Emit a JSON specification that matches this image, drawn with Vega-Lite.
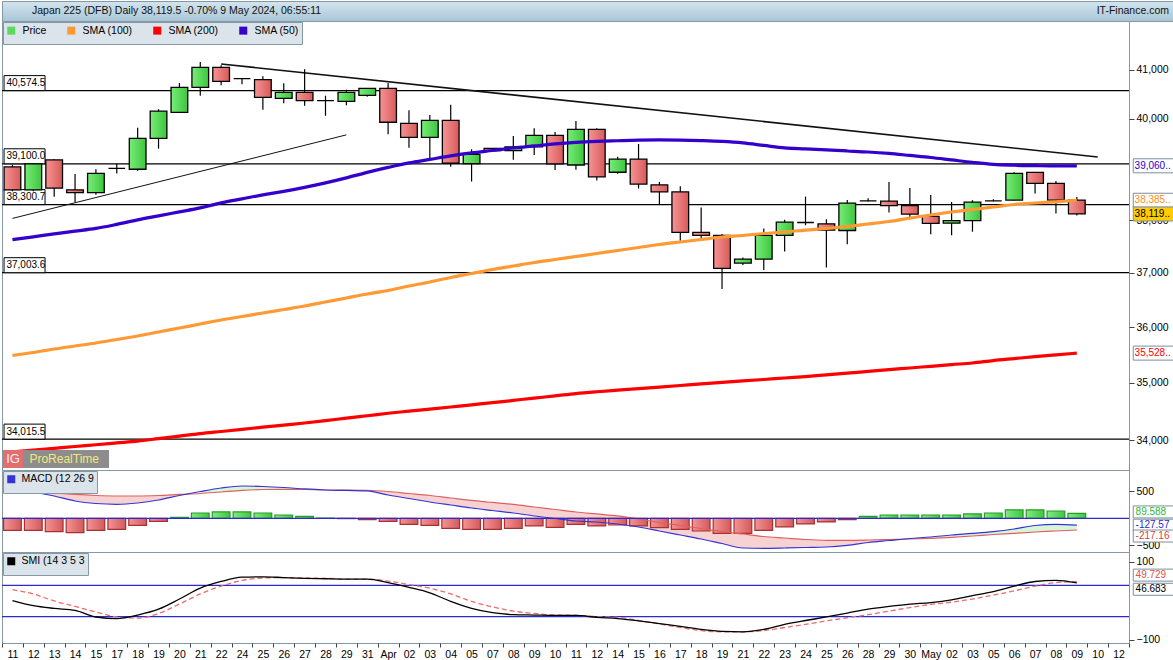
{
"$schema": "https://vega.github.io/schema/vega-lite/v6.json",
"padding": 0,
"spacing": 0,
"bounds": "flush",
"background": "white",
"config": {
 "font": "Liberation Sans",
 "view": {"stroke": "#8598a6", "strokeWidth": 1},
 "axis": {"labelFontSize": 10.5, "labelColor": "black", "tickColor": "#444", "domain": false, "grid": false, "labelFont": "Liberation Sans"},
 "legend": {"labelFontSize": 10.5, "labelFont": "Liberation Sans", "labelColor": "black"},
 "text": {"font": "Liberation Sans"}
},
"datasets": {
 "hdr": [{"p": 0, "t": "Japan 225 (DFB) Daily 38,119.5 -0.70% 9 May 2024, 06:55:11"}, {"p": 1, "t": "IT-Finance.com"}],
 "lvl": [{"v": 40574.5, "t": "40,574.5"}, {"v": 39100, "t": "39,100.0"}, {"v": 38300.7, "t": "38,300.7"}, {"v": 37003.6, "t": "37,003.6"}, {"v": 34015.5, "t": "34,015.5"}],
 "trd": [{"id": "a", "date": "2024-03-22", "v": 41125}, {"id": "a", "date": "2024-05-10", "v": 39235}, {"id": "b", "date": "2024-03-11", "v": 38034}, {"id": "b", "date": "2024-03-29", "v": 39676}],
 "ptg": [{"k": "s50", "v": 39060, "t": "39,060.."}, {"k": "s100", "v": 38385, "t": "38,385.."}, {"k": "last", "v": 38119.5, "t": "38,119.."}, {"k": "s200", "v": 35528, "t": "35,528.."}],
 "mtg": [{"k": "hist", "v": 89.588, "t": "89.588"}, {"k": "macd", "v": -127.57, "t": "-127.57"}, {"k": "sig", "v": -217.16, "t": "-217.16"}],
 "stg": [{"k": "sig", "v": 49.729, "t": "49.729"}, {"k": "smi", "v": 46.683, "t": "46.683"}],
 "ohlc": [
{"date":"2024-03-11","o":39037,"h":39080,"l":38560,"c":38587,"s50":37627,"s100":35485,"s200":33798,"hist":-222,"macd":543,"sig":552,"seg":"r1","smi":1,"smis":29},
{"date":"2024-03-12","o":38587,"h":39110,"l":38560,"c":39100,"s50":37681,"s100":35539,"s200":33829,"hist":-222,"macd":487,"sig":506,"seg":"r1","smi":-12,"smis":18},
{"date":"2024-03-13","o":39176,"h":39190,"l":38455,"c":38620,"s50":37738,"s100":35602,"s200":33858,"hist":-248,"macd":413,"sig":469,"seg":"r1","smi":-19,"smis":0},
{"date":"2024-03-14","o":38587,"h":38900,"l":38345,"c":38535,"s50":37790,"s100":35656,"s200":33889,"hist":-267,"macd":320,"sig":441,"seg":"r1","smi":-24,"smis":-14},
{"date":"2024-03-15","o":38535,"h":38990,"l":38490,"c":38910,"s50":37843,"s100":35710,"s200":33919,"hist":-222,"macd":274,"sig":422,"seg":"r1","smi":-41,"smis":-28},
{"date":"2024-03-17","o":39010,"h":39100,"l":38910,"c":39010,"s50":37920,"s100":35774,"s200":33950,"hist":-204,"macd":259,"sig":413,"seg":"r1","smi":-45,"smis":-41},
{"date":"2024-03-18","o":38992,"h":39820,"l":38960,"c":39607,"s50":38006,"s100":35837,"s200":33981,"hist":-130,"macd":283,"sig":413,"seg":"r1","smi":-36,"smis":-44},
{"date":"2024-03-19","o":39607,"h":40195,"l":39400,"c":40155,"s50":38083,"s100":35910,"s200":34024,"hist":-56,"macd":339,"sig":422,"seg":"r1","smi":-21,"smis":-32},
{"date":"2024-03-20","o":40132,"h":40731,"l":40130,"c":40643,"s50":38160,"s100":35982,"s200":34067,"hist":19,"macd":422,"sig":441,"seg":"r1","smi":5,"smis":-8},
{"date":"2024-03-21","o":40643,"h":41166,"l":40470,"c":41056,"s50":38237,"s100":36055,"s200":34111,"hist":98,"macd":496,"sig":459,"seg":"g1","smi":33,"smis":18},
{"date":"2024-03-22","o":41056,"h":41100,"l":40684,"c":40766,"s50":38334,"s100":36128,"s200":34147,"hist":117,"macd":561,"sig":487,"seg":"g1","smi":50,"smis":38},
{"date":"2024-03-24","o":40820,"h":40830,"l":40705,"c":40820,"s50":38412,"s100":36192,"s200":34183,"hist":117,"macd":598,"sig":515,"seg":"g1","smi":61,"smis":53},
{"date":"2024-03-25","o":40799,"h":40870,"l":40184,"c":40437,"s50":38490,"s100":36257,"s200":34222,"hist":98,"macd":589,"sig":533,"seg":"g1","smi":62,"smis":59},
{"date":"2024-03-26","o":40417,"h":40725,"l":40315,"c":40539,"s50":38557,"s100":36321,"s200":34258,"hist":61,"macd":570,"sig":537,"seg":"g1","smi":60,"smis":60},
{"date":"2024-03-27","o":40539,"h":41015,"l":40265,"c":40368,"s50":38636,"s100":36385,"s200":34294,"hist":37,"macd":543,"sig":533,"seg":"g1","smi":58,"smis":59},
{"date":"2024-03-28","o":40368,"h":40470,"l":40062,"c":40368,"s50":38724,"s100":36459,"s200":34334,"hist":4,"macd":524,"sig":524,"seg":"r2","smi":57,"smis":58},
{"date":"2024-03-29","o":40355,"h":40592,"l":40275,"c":40539,"s50":38822,"s100":36533,"s200":34378,"hist":-6,"macd":515,"sig":524,"seg":"r2","smi":56,"smis":56},
{"date":"2024-03-31","o":40477,"h":40630,"l":40450,"c":40620,"s50":38930,"s100":36607,"s200":34420,"hist":-25,"macd":506,"sig":519,"seg":"r2","smi":56,"smis":56},
{"date":"2024-04-01","o":40620,"h":40731,"l":39686,"c":39930,"s50":39028,"s100":36672,"s200":34463,"hist":-56,"macd":431,"sig":496,"seg":"r2","smi":47,"smis":51},
{"date":"2024-04-02","o":39909,"h":40174,"l":39416,"c":39627,"s50":39117,"s100":36755,"s200":34500,"hist":-111,"macd":367,"sig":459,"seg":"r2","smi":35,"smis":42},
{"date":"2024-04-03","o":39627,"h":40078,"l":39187,"c":39970,"s50":39186,"s100":36830,"s200":34536,"hist":-130,"macd":302,"sig":422,"seg":"r2","smi":21,"smis":33},
{"date":"2024-04-04","o":39970,"h":40283,"l":39043,"c":39110,"s50":39255,"s100":36914,"s200":34573,"hist":-185,"macd":246,"sig":376,"seg":"r2","smi":-1,"smis":18},
{"date":"2024-04-05","o":39102,"h":39387,"l":38750,"c":39288,"s50":39315,"s100":36988,"s200":34611,"hist":-204,"macd":191,"sig":330,"seg":"r2","smi":-19,"smis":-1},
{"date":"2024-04-07","o":39404,"h":39410,"l":39355,"c":39363,"s50":39364,"s100":37063,"s200":34648,"hist":-204,"macd":144,"sig":293,"seg":"r2","smi":-30,"smis":-15},
{"date":"2024-04-08","o":39363,"h":39654,"l":39178,"c":39437,"s50":39414,"s100":37129,"s200":34688,"hist":-185,"macd":98,"sig":256,"seg":"r2","smi":-35,"smis":-26},
{"date":"2024-04-09","o":39437,"h":39810,"l":39275,"c":39667,"s50":39454,"s100":37195,"s200":34729,"hist":-142,"macd":43,"sig":209,"seg":"r2","smi":-36,"smis":-32},
{"date":"2024-04-10","o":39667,"h":39735,"l":38978,"c":39100,"s50":39494,"s100":37251,"s200":34767,"hist":-167,"macd":-4,"sig":163,"seg":"r2","smi":-37,"smis":-36},
{"date":"2024-04-11","o":39076,"h":39957,"l":38984,"c":39788,"s50":39524,"s100":37308,"s200":34808,"hist":-111,"macd":-50,"sig":117,"seg":"r2","smi":-37,"smis":-37},
{"date":"2024-04-12","o":39788,"h":39810,"l":38770,"c":38842,"s50":39544,"s100":37365,"s200":34840,"hist":-142,"macd":-69,"sig":80,"seg":"r2","smi":-42,"smis":-40},
{"date":"2024-04-14","o":38933,"h":39237,"l":38905,"c":39192,"s50":39558,"s100":37421,"s200":34868,"hist":-124,"macd":-106,"sig":43,"seg":"r2","smi":-45,"smis":-42},
{"date":"2024-04-15","o":39192,"h":39494,"l":38613,"c":38700,"s50":39570,"s100":37478,"s200":34895,"hist":-142,"macd":-161,"sig":-13,"seg":"r2","smi":-51,"smis":-50},
{"date":"2024-04-16","o":38685,"h":38744,"l":38310,"c":38548,"s50":39574,"s100":37535,"s200":34923,"hist":-173,"macd":-235,"sig":-78,"seg":"r2","smi":-58,"smis":-59},
{"date":"2024-04-17","o":38548,"h":38659,"l":37605,"c":37767,"s50":39570,"s100":37583,"s200":34951,"hist":-204,"macd":-309,"sig":-133,"seg":"r2","smi":-65,"smis":-68},
{"date":"2024-04-18","o":37767,"h":38243,"l":37648,"c":37707,"s50":39560,"s100":37630,"s200":34980,"hist":-235,"macd":-383,"sig":-189,"seg":"r2","smi":-73,"smis":-76},
{"date":"2024-04-19","o":37707,"h":37735,"l":36700,"c":37086,"s50":39544,"s100":37678,"s200":35006,"hist":-278,"macd":-467,"sig":-244,"seg":"r2","smi":-78,"smis":-79},
{"date":"2024-04-21","o":37184,"h":37290,"l":37146,"c":37259,"s50":39514,"s100":37706,"s200":35031,"hist":-278,"macd":-550,"sig":-291,"seg":"r2","smi":-79,"smis":-79},
{"date":"2024-04-22","o":37259,"h":37840,"l":37052,"c":37707,"s50":39464,"s100":37745,"s200":35057,"hist":-222,"macd":-556,"sig":-337,"seg":"r2","smi":-73,"smis":-76},
{"date":"2024-04-23","o":37707,"h":38006,"l":37402,"c":37962,"s50":39414,"s100":37773,"s200":35084,"hist":-160,"macd":-550,"sig":-365,"seg":"r2","smi":-60,"smis":-68},
{"date":"2024-04-24","o":37955,"h":38456,"l":37903,"c":37955,"s50":39394,"s100":37811,"s200":35109,"hist":-105,"macd":-541,"sig":-393,"seg":"r2","smi":-50,"smis":-60},
{"date":"2024-04-25","o":37930,"h":38018,"l":37100,"c":37808,"s50":39374,"s100":37840,"s200":35139,"hist":-68,"macd":-531,"sig":-407,"seg":"r2","smi":-41,"smis":-51},
{"date":"2024-04-26","o":37802,"h":38392,"l":37542,"c":38329,"s50":39354,"s100":37879,"s200":35169,"hist":-25,"macd":-500,"sig":-407,"seg":"r2","smi":-31,"smis":-43},
{"date":"2024-04-28","o":38373,"h":38425,"l":38360,"c":38373,"s50":39334,"s100":37927,"s200":35201,"hist":37,"macd":-448,"sig":-402,"seg":"r2","smi":-21,"smis":-35},
{"date":"2024-04-29","o":38367,"h":38743,"l":38146,"c":38282,"s50":39305,"s100":37975,"s200":35232,"hist":61,"macd":-411,"sig":-393,"seg":"r2","smi":-14,"smis":-26},
{"date":"2024-04-30","o":38282,"h":38626,"l":38018,"c":38115,"s50":39265,"s100":38042,"s200":35262,"hist":61,"macd":-374,"sig":-383,"seg":"g2","smi":-8,"smis":-17},
{"date":"2024-05-01","o":38073,"h":38489,"l":37732,"c":37937,"s50":39225,"s100":38100,"s200":35292,"hist":61,"macd":-346,"sig":-370,"seg":"g2","smi":-4,"smis":-9},
{"date":"2024-05-02","o":37943,"h":38353,"l":37713,"c":37990,"s50":39176,"s100":38158,"s200":35323,"hist":61,"macd":-309,"sig":-352,"seg":"g2","smi":3,"smis":-3},
{"date":"2024-05-03","o":37990,"h":38387,"l":37779,"c":38348,"s50":39127,"s100":38206,"s200":35351,"hist":80,"macd":-281,"sig":-328,"seg":"g2","smi":14,"smis":5},
{"date":"2024-05-05","o":38373,"h":38406,"l":38365,"c":38373,"s50":39087,"s100":38254,"s200":35395,"hist":98,"macd":-248,"sig":-300,"seg":"g2","smi":24,"smis":15},
{"date":"2024-05-06","o":38387,"h":38932,"l":38380,"c":38910,"s50":39071,"s100":38303,"s200":35430,"hist":154,"macd":-198,"sig":-278,"seg":"g2","smi":38,"smis":26},
{"date":"2024-05-07","o":38932,"h":38935,"l":38514,"c":38714,"s50":39063,"s100":38332,"s200":35465,"hist":154,"macd":-133,"sig":-254,"seg":"g2","smi":50,"smis":38},
{"date":"2024-05-08","o":38714,"h":38763,"l":38127,"c":38387,"s50":39057,"s100":38355,"s200":35497,"hist":135,"macd":-111,"sig":-235,"seg":"g2","smi":53,"smis":47},
{"date":"2024-05-09","o":38387,"h":38450,"l":38089,"c":38119.5,"s50":39060,"s100":38385,"s200":35528,"hist":89.588,"macd":-127.57,"sig":-217.16,"seg":"g2","smi":46.683,"smis":49.729}
 ]
},
"resolve": {"scale": {"color": "independent", "x": "independent", "y": "independent"}},
"vconcat": [
 {
  "width": 1173, "height": 20,
  "view": {"fill": {"gradient": "linear", "x1": 0, "y1": 0, "x2": 0, "y2": 1, "stops": [{"offset": 0, "color": "#d3e5ef"}, {"offset": 1, "color": "#a8c5d5"}]}, "stroke": "#8598a6"},
  "data": {"name": "hdr"},
  "layer": [
   {"transform": [{"filter": "datum.p == 0"}], "mark": {"type": "text", "align": "left", "baseline": "middle", "dx": 30, "fontSize": 10.5, "color": "#111"},
    "encoding": {"x": {"field": "p", "type": "quantitative", "scale": {"domain": [0, 1], "nice": false, "zero": false}, "axis": null}, "text": {"field": "t"}}},
   {"transform": [{"filter": "datum.p == 1"}], "mark": {"type": "text", "align": "right", "baseline": "middle", "dx": -6, "fontSize": 10.5, "color": "#111"},
    "encoding": {"x": {"field": "p", "type": "quantitative", "axis": null}, "text": {"field": "t"}}}
  ]
 },
 {
  "width": 1127, "height": 449,
  "layer": [
   {"data": {"name": "lvl"}, "mark": {"type": "rule", "color": "black", "strokeWidth": 1.2},
    "encoding": {"y": {"field": "v", "type": "quantitative", "title": null, "scale": {"type": "log", "domain": [33488, 42029], "nice": false}, "axis": {"orient": "right", "values": [34000, 35000, 36000, 37000, 38000, 40000, 41000], "format": ",d", "tickSize": 5, "labelPadding": 2}}}},
   {"data": {"name": "ohlc"},
    "encoding": {"x": {"field": "date", "type": "ordinal", "title": null, "axis": null, "scale": {"type": "band", "paddingInner": 0, "paddingOuter": 0, "domain": ["2024-03-11","2024-03-12","2024-03-13","2024-03-14","2024-03-15","2024-03-17","2024-03-18","2024-03-19","2024-03-20","2024-03-21","2024-03-22","2024-03-24","2024-03-25","2024-03-26","2024-03-27","2024-03-28","2024-03-29","2024-03-31","2024-04-01","2024-04-02","2024-04-03","2024-04-04","2024-04-05","2024-04-07","2024-04-08","2024-04-09","2024-04-10","2024-04-11","2024-04-12","2024-04-14","2024-04-15","2024-04-16","2024-04-17","2024-04-18","2024-04-19","2024-04-21","2024-04-22","2024-04-23","2024-04-24","2024-04-25","2024-04-26","2024-04-28","2024-04-29","2024-04-30","2024-05-01","2024-05-02","2024-05-03","2024-05-05","2024-05-06","2024-05-07","2024-05-08","2024-05-09","2024-05-10","2024-05-12"]}}},
    "layer": [
     {"data": {"name": "lvl"}, "mark": {"type": "point", "shape": "M-2.1,-3.75H8.15V0H-2.1Z", "size": 64, "filled": true, "fill": "white", "stroke": "black", "strokeWidth": 1, "strokeJoin": "bevel", "opacity": 1},
      "encoding": {"x": {"datum": "2024-03-11", "type": "ordinal", "title": null}, "y": {"field": "v", "type": "quantitative", "title": null}}},
     {"data": {"name": "lvl"}, "mark": {"type": "text", "align": "left", "baseline": "middle", "dx": -6, "dy": -7.5, "fontSize": 10, "color": "black"},
      "encoding": {"x": {"datum": "2024-03-11", "type": "ordinal", "title": null}, "y": {"field": "v", "type": "quantitative", "title": null}, "text": {"field": "t"}}},
     {"data": {"name": "trd"}, "transform": [{"filter": "datum.id == 'a'"}], "mark": {"type": "line", "color": "#111", "strokeWidth": 1.6},
      "encoding": {"y": {"field": "v", "type": "quantitative", "title": null}}},
     {"data": {"name": "trd"}, "transform": [{"filter": "datum.id == 'b'"}], "mark": {"type": "line", "color": "#111", "strokeWidth": 1},
      "encoding": {"y": {"field": "v", "type": "quantitative", "title": null}}},
     {"mark": {"type": "rule", "color": "black", "strokeWidth": 1.2},
      "encoding": {"y": {"field": "l", "type": "quantitative", "title": null}, "y2": {"field": "h"}}},
     {"transform": [{"filter": "datum.c >= datum.o"}],
      "mark": {"type": "bar", "width": {"band": 0.8}, "fill": {"gradient": "linear", "x1": 0, "y1": 0, "x2": 1, "y2": 0, "stops": [{"offset": 0, "color": "#78ec78"}, {"offset": 1, "color": "#3ec63e"}]}, "stroke": "black", "strokeWidth": 1.3},
      "encoding": {"y": {"field": "o", "type": "quantitative", "title": null}, "y2": {"field": "c"}}},
     {"transform": [{"filter": "datum.c < datum.o"}],
      "mark": {"type": "bar", "width": {"band": 0.8}, "fill": {"gradient": "linear", "x1": 0, "y1": 0, "x2": 1, "y2": 0, "stops": [{"offset": 0, "color": "#f69494"}, {"offset": 1, "color": "#d85a5a"}]}, "stroke": "black", "strokeWidth": 1.3},
      "encoding": {"y": {"field": "o", "type": "quantitative", "title": null}, "y2": {"field": "c"}}},
     {"mark": {"type": "line", "strokeWidth": 3.2, "interpolate": "monotone"},
      "encoding": {"y": {"field": "s200", "type": "quantitative", "title": null},
       "color": {"datum": "SMA (200)", "scale": {"domain": ["Price", "SMA (100)", "SMA (200)", "SMA (50)"], "range": ["#5ed85e", "#ff9933", "#ff0000", "#3300cc"]},
        "legend": {"title": null, "orient": "top-left", "direction": "horizontal", "offset": 1, "padding": 3, "fillColor": "#dbe4ea", "strokeColor": "#8598a6", "symbolType": "square", "symbolSize": 16, "symbolStrokeWidth": 4, "labelFontSize": 10.5, "labelColor": "black", "columnPadding": 14, "labelOffset": 6}}}},
     {"mark": {"type": "line", "strokeWidth": 3.2, "interpolate": "monotone"},
      "encoding": {"y": {"field": "s100", "type": "quantitative", "title": null}, "color": {"datum": "SMA (100)"}}},
     {"mark": {"type": "line", "strokeWidth": 3.2, "interpolate": "monotone"},
      "encoding": {"y": {"field": "s50", "type": "quantitative", "title": null}, "color": {"datum": "SMA (50)"}}},
     {"data": {"name": "ptg"}, "transform": [{"filter": "datum.k != 'last'"}], "mark": {"type": "point", "shape": "M2.1,-1H7.9V1H2.1Z", "size": 196, "filled": true, "fill": "white", "stroke": "#7d8f9c", "strokeWidth": 1, "strokeJoin": "bevel", "opacity": 1},
      "encoding": {"x": {"datum": "2024-05-12", "type": "ordinal", "title": null}, "y": {"field": "v", "type": "quantitative", "title": null}}},
     {"data": {"name": "ptg"}, "transform": [{"filter": "datum.k == 'last'"}], "mark": {"type": "point", "shape": "M2.1,-1H7.9V1H2.1Z", "size": 196, "filled": true, "fill": "#ffcc00", "stroke": "#7d8f9c", "strokeWidth": 1, "strokeJoin": "bevel", "opacity": 1},
      "encoding": {"x": {"datum": "2024-05-12", "type": "ordinal", "title": null}, "y": {"field": "v", "type": "quantitative", "title": null}}},
     {"data": {"name": "ptg"}, "transform": [{"filter": "datum.k == 's50'"}], "mark": {"type": "text", "align": "left", "baseline": "middle", "dx": 16, "fontSize": 10, "color": "#2a00cc"},
      "encoding": {"x": {"datum": "2024-05-12", "type": "ordinal", "title": null}, "y": {"field": "v", "type": "quantitative", "title": null}, "text": {"field": "t"}}},
     {"data": {"name": "ptg"}, "transform": [{"filter": "datum.k == 's100'"}], "mark": {"type": "text", "align": "left", "baseline": "middle", "dx": 16, "fontSize": 10, "color": "#ff8c1a"},
      "encoding": {"x": {"datum": "2024-05-12", "type": "ordinal", "title": null}, "y": {"field": "v", "type": "quantitative", "title": null}, "text": {"field": "t"}}},
     {"data": {"name": "ptg"}, "transform": [{"filter": "datum.k == 'last'"}], "mark": {"type": "text", "align": "left", "baseline": "middle", "dx": 16, "fontSize": 10, "color": "black"},
      "encoding": {"x": {"datum": "2024-05-12", "type": "ordinal", "title": null}, "y": {"field": "v", "type": "quantitative", "title": null}, "text": {"field": "t"}}},
     {"data": {"name": "ptg"}, "transform": [{"filter": "datum.k == 's200'"}], "mark": {"type": "text", "align": "left", "baseline": "middle", "dx": 16, "fontSize": 10, "color": "#ff0000"},
      "encoding": {"x": {"datum": "2024-05-12", "type": "ordinal", "title": null}, "y": {"field": "v", "type": "quantitative", "title": null}, "text": {"field": "t"}}},
     {"data": {"values": [{"b": "ProRealTime"}]}, "mark": {"type": "point", "shape": "M-1.88,-1.8H19.32V1.8H-1.88Z", "size": 100, "filled": true, "fill": "#8d8d8d", "opacity": 1},
      "encoding": {"x": {"datum": "2024-03-11", "type": "ordinal", "title": null}, "y": {"datum": 33675, "type": "quantitative", "title": null}}},
     {"data": {"values": [{"b": "IG"}]}, "mark": {"type": "point", "shape": "M-1.88,-1.8H2.12V1.8H-1.88Z", "size": 100, "filled": true, "fill": "#e07070", "opacity": 1},
      "encoding": {"x": {"datum": "2024-03-11", "type": "ordinal", "title": null}, "y": {"datum": 33675, "type": "quantitative", "title": null}}},
     {"data": {"values": [{"b": "IG"}]}, "mark": {"type": "text", "align": "center", "baseline": "middle", "dx": 0.6, "fontSize": 13, "color": "#ffecec"},
      "encoding": {"x": {"datum": "2024-03-11", "type": "ordinal", "title": null}, "y": {"datum": 33675, "type": "quantitative", "title": null}, "text": {"field": "b"}}},
     {"data": {"values": [{"b": "ProRealTime"}]}, "mark": {"type": "text", "align": "left", "baseline": "middle", "dx": 17, "fontSize": 12, "color": "#f3e77c"},
      "encoding": {"x": {"datum": "2024-03-11", "type": "ordinal", "title": null}, "y": {"datum": 33675, "type": "quantitative", "title": null}, "text": {"field": "b"}}}
    ]
   }
  ]
 },
 {
  "width": 1127, "height": 82,
  "layer": [
   {"data": {"name": "ohlc"},
    "encoding": {"x": {"field": "date", "type": "ordinal", "title": null, "axis": null, "scale": {"type": "band", "paddingInner": 0, "paddingOuter": 0, "domain": ["2024-03-11","2024-03-12","2024-03-13","2024-03-14","2024-03-15","2024-03-17","2024-03-18","2024-03-19","2024-03-20","2024-03-21","2024-03-22","2024-03-24","2024-03-25","2024-03-26","2024-03-27","2024-03-28","2024-03-29","2024-03-31","2024-04-01","2024-04-02","2024-04-03","2024-04-04","2024-04-05","2024-04-07","2024-04-08","2024-04-09","2024-04-10","2024-04-11","2024-04-12","2024-04-14","2024-04-15","2024-04-16","2024-04-17","2024-04-18","2024-04-19","2024-04-21","2024-04-22","2024-04-23","2024-04-24","2024-04-25","2024-04-26","2024-04-28","2024-04-29","2024-04-30","2024-05-01","2024-05-02","2024-05-03","2024-05-05","2024-05-06","2024-05-07","2024-05-08","2024-05-09","2024-05-10","2024-05-12"]}}},
    "layer": [
     {"transform": [{"filter": "datum.seg == 'r1' || datum.seg == 'r2'"}], "mark": {"type": "area", "color": "#f7d2d2", "opacity": 1, "interpolate": "monotone"},
      "encoding": {"y": {"field": "macd", "type": "quantitative", "title": null, "scale": {"domain": [-624, 894], "nice": false, "zero": false}, "axis": {"orient": "right", "values": [500, -500], "tickSize": 5, "labelPadding": 2}}, "y2": {"field": "sig"}, "detail": {"field": "seg"}}},
     {"transform": [{"filter": "datum.seg == 'g1' || datum.seg == 'g2'"}], "mark": {"type": "area", "color": "#d8f5d8", "opacity": 1, "interpolate": "monotone"},
      "encoding": {"y": {"field": "macd", "type": "quantitative", "title": null}, "y2": {"field": "sig"}, "detail": {"field": "seg"}}},
     {"transform": [{"filter": "datum.hist > 0"}],
      "mark": {"type": "bar", "width": {"band": 0.85}, "fill": {"gradient": "linear", "x1": 0, "y1": 0, "x2": 1, "y2": 0, "stops": [{"offset": 0, "color": "#80ec80"}, {"offset": 1, "color": "#3ec63e"}]}, "stroke": "#2a9a2a", "strokeWidth": 1.2},
      "encoding": {"y": {"field": "hist", "type": "quantitative", "title": null}, "y2": {"datum": 0}}},
     {"transform": [{"filter": "datum.hist < 0"}],
      "mark": {"type": "bar", "width": {"band": 0.85}, "fill": {"gradient": "linear", "x1": 0, "y1": 0, "x2": 1, "y2": 0, "stops": [{"offset": 0, "color": "#f49494"}, {"offset": 1, "color": "#d45a5a"}]}, "stroke": "#a83030", "strokeWidth": 1.2},
      "encoding": {"y": {"field": "hist", "type": "quantitative", "title": null}, "y2": {"datum": 0}}},
     {"mark": {"type": "line", "color": "#e06060", "strokeWidth": 1.2, "interpolate": "monotone"},
      "encoding": {"y": {"field": "sig", "type": "quantitative", "title": null}}},
     {"mark": {"type": "line", "strokeWidth": 1.2, "interpolate": "monotone"},
      "encoding": {"y": {"field": "macd", "type": "quantitative", "title": null},
       "color": {"datum": "MACD (12 26 9", "scale": {"range": ["#3434d6"]},
        "legend": {"title": null, "orient": "top-left", "direction": "horizontal", "offset": 1, "padding": 3, "fillColor": "#dbe4ea", "strokeColor": "#8598a6", "symbolType": "square", "symbolSize": 16, "symbolStrokeWidth": 4, "labelFontSize": 10.5, "labelColor": "black", "labelOffset": 5}}}},
     {"data": {"name": "mtg"}, "transform": [{"filter": "datum.k == 'hist'"}], "mark": {"type": "point", "shape": "M2.45,-1.25H9.2V0.75H2.45Z", "size": 144, "filled": true, "fill": "white", "stroke": "#7d8f9c", "strokeWidth": 1, "strokeJoin": "bevel", "opacity": 1},
      "encoding": {"x": {"datum": "2024-05-12", "type": "ordinal", "title": null}, "y": {"field": "v", "type": "quantitative", "title": null}}},
     {"data": {"name": "mtg"}, "transform": [{"filter": "datum.k == 'macd'"}], "mark": {"type": "point", "shape": "M2.45,-1H9.2V1H2.45Z", "size": 144, "filled": true, "fill": "white", "stroke": "#7d8f9c", "strokeWidth": 1, "strokeJoin": "bevel", "opacity": 1},
      "encoding": {"x": {"datum": "2024-05-12", "type": "ordinal", "title": null}, "y": {"field": "v", "type": "quantitative", "title": null}}},
     {"data": {"name": "mtg"}, "transform": [{"filter": "datum.k == 'sig'"}], "mark": {"type": "point", "shape": "M2.45,0H9.2V2H2.45Z", "size": 144, "filled": true, "fill": "white", "stroke": "#7d8f9c", "strokeWidth": 1, "strokeJoin": "bevel", "opacity": 1},
      "encoding": {"x": {"datum": "2024-05-12", "type": "ordinal", "title": null}, "y": {"field": "v", "type": "quantitative", "title": null}}},
     {"data": {"name": "mtg"}, "transform": [{"filter": "datum.k == 'hist'"}], "mark": {"type": "text", "align": "left", "baseline": "middle", "dx": 17, "dy": -1.5, "fontSize": 10, "color": "#2db82d"},
      "encoding": {"x": {"datum": "2024-05-12", "type": "ordinal", "title": null}, "y": {"field": "v", "type": "quantitative", "title": null}, "text": {"field": "t"}}},
     {"data": {"name": "mtg"}, "transform": [{"filter": "datum.k == 'macd'"}], "mark": {"type": "text", "align": "left", "baseline": "middle", "dx": 17, "fontSize": 10, "color": "#2a2ad0"},
      "encoding": {"x": {"datum": "2024-05-12", "type": "ordinal", "title": null}, "y": {"field": "v", "type": "quantitative", "title": null}, "text": {"field": "t"}}},
     {"data": {"name": "mtg"}, "transform": [{"filter": "datum.k == 'sig'"}], "mark": {"type": "text", "align": "left", "baseline": "middle", "dx": 17, "dy": 6, "fontSize": 10, "color": "#e04040"},
      "encoding": {"x": {"datum": "2024-05-12", "type": "ordinal", "title": null}, "y": {"field": "v", "type": "quantitative", "title": null}, "text": {"field": "t"}}}
    ]
   },
   {"data": {"values": [{"z": 0}]}, "mark": {"type": "rule", "color": "#2a2ad0", "strokeWidth": 1.2},
    "encoding": {"y": {"field": "z", "type": "quantitative", "title": null}}}
  ]
 },
 {
  "width": 1127, "height": 91,
  "layer": [
   {"data": {"values": [{"z": 40}, {"z": -40}]}, "mark": {"type": "rule", "color": "#2a2ad0", "strokeWidth": 1.2},
    "encoding": {"y": {"field": "z", "type": "quantitative", "title": null, "scale": {"domain": [-107.7, 125.6], "nice": false, "zero": false}, "axis": {"orient": "right", "values": [100, 0, -50, -100], "tickSize": 5, "labelPadding": 2}}}},
   {"data": {"name": "ohlc"},
    "encoding": {"x": {"field": "date", "type": "ordinal", "title": null,
      "axis": {"labelExpr": "isValid(datum.value) && length(datum.value + '') == 10 ? (substring(datum.value, 8, 10) == '01' ? (substring(datum.value, 5, 7) == '04' ? 'Apr' : 'May') : substring(datum.value, 8, 10)) : ''", "labelAngle": 0, "tickBand": "extent", "tickSize": 4, "labelPadding": 2, "labelFontSize": 10.5, "labelOverlap": false},
      "scale": {"type": "band", "paddingInner": 0, "paddingOuter": 0, "domain": ["2024-03-11","2024-03-12","2024-03-13","2024-03-14","2024-03-15","2024-03-17","2024-03-18","2024-03-19","2024-03-20","2024-03-21","2024-03-22","2024-03-24","2024-03-25","2024-03-26","2024-03-27","2024-03-28","2024-03-29","2024-03-31","2024-04-01","2024-04-02","2024-04-03","2024-04-04","2024-04-05","2024-04-07","2024-04-08","2024-04-09","2024-04-10","2024-04-11","2024-04-12","2024-04-14","2024-04-15","2024-04-16","2024-04-17","2024-04-18","2024-04-19","2024-04-21","2024-04-22","2024-04-23","2024-04-24","2024-04-25","2024-04-26","2024-04-28","2024-04-29","2024-04-30","2024-05-01","2024-05-02","2024-05-03","2024-05-05","2024-05-06","2024-05-07","2024-05-08","2024-05-09","2024-05-10","2024-05-12"]}}},
    "layer": [
     {"mark": {"type": "line", "color": "#ee6b6b", "strokeWidth": 1.3, "strokeDash": [5, 3], "interpolate": "monotone"},
      "encoding": {"y": {"field": "smis", "type": "quantitative", "title": null}}},
     {"mark": {"type": "line", "strokeWidth": 1.3, "interpolate": "monotone"},
      "encoding": {"y": {"field": "smi", "type": "quantitative", "title": null},
       "color": {"datum": "SMI (14 3 5 3", "scale": {"range": ["black"]},
        "legend": {"title": null, "orient": "top-left", "direction": "horizontal", "offset": 1, "padding": 3, "fillColor": "#dbe4ea", "strokeColor": "#8598a6", "symbolType": "square", "symbolSize": 16, "symbolStrokeWidth": 4, "labelFontSize": 10.5, "labelColor": "black", "labelOffset": 5}}}},
     {"data": {"name": "stg"}, "transform": [{"filter": "datum.k == 'sig'"}], "mark": {"type": "point", "shape": "M2.45,-2.08H9.2V-0.08H2.45Z", "size": 144, "filled": true, "fill": "white", "stroke": "#7d8f9c", "strokeWidth": 1, "strokeJoin": "bevel", "opacity": 1},
      "encoding": {"x": {"datum": "2024-05-12", "type": "ordinal", "title": null}, "y": {"field": "v", "type": "quantitative", "title": null}}},
     {"data": {"name": "stg"}, "transform": [{"filter": "datum.k == 'smi'"}], "mark": {"type": "point", "shape": "M2.45,0.08H9.2V2.08H2.45Z", "size": 144, "filled": true, "fill": "white", "stroke": "#7d8f9c", "strokeWidth": 1, "strokeJoin": "bevel", "opacity": 1},
      "encoding": {"x": {"datum": "2024-05-12", "type": "ordinal", "title": null}, "y": {"field": "v", "type": "quantitative", "title": null}}},
     {"data": {"name": "stg"}, "transform": [{"filter": "datum.k == 'sig'"}], "mark": {"type": "text", "align": "left", "baseline": "middle", "dx": 17, "dy": -6.5, "fontSize": 10, "color": "#e05050"},
      "encoding": {"x": {"datum": "2024-05-12", "type": "ordinal", "title": null}, "y": {"field": "v", "type": "quantitative", "title": null}, "text": {"field": "t"}}},
     {"data": {"name": "stg"}, "transform": [{"filter": "datum.k == 'smi'"}], "mark": {"type": "text", "align": "left", "baseline": "middle", "dx": 17, "dy": 6.5, "fontSize": 10, "color": "black"},
      "encoding": {"x": {"datum": "2024-05-12", "type": "ordinal", "title": null}, "y": {"field": "v", "type": "quantitative", "title": null}, "text": {"field": "t"}}}
    ]
   }
  ]
 }
]
}
